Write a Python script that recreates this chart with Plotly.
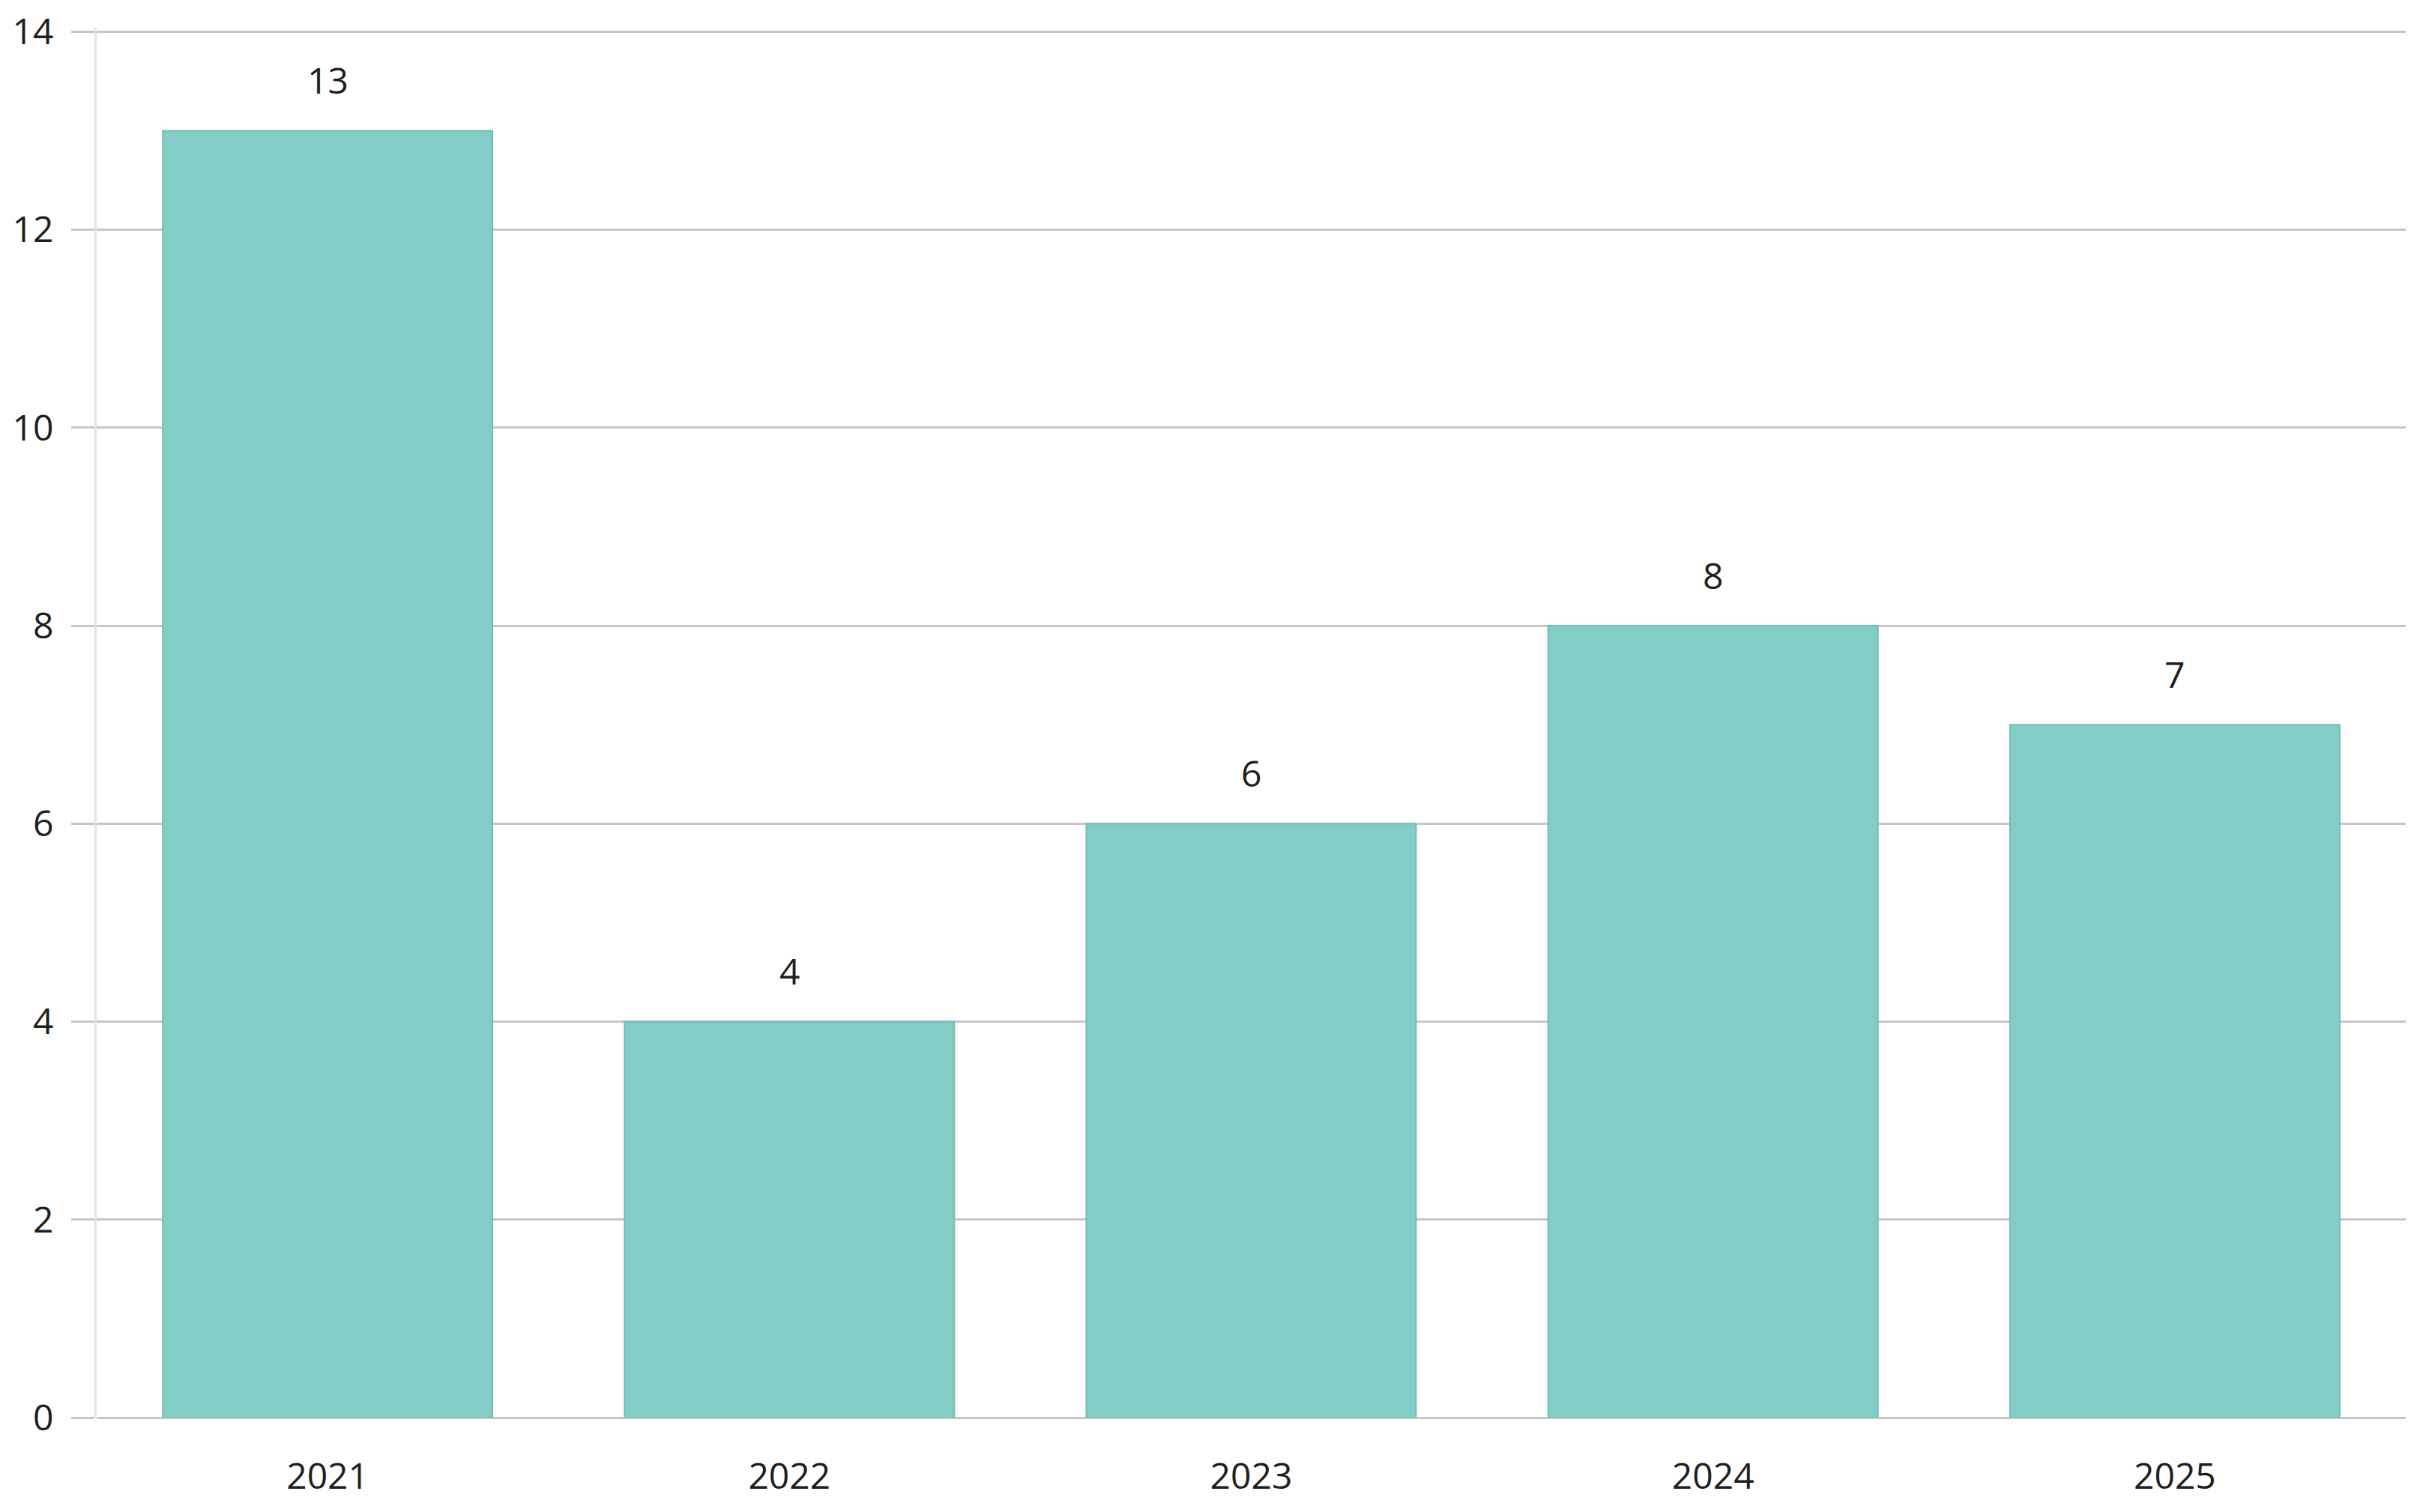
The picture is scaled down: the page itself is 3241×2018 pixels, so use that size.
import plotly.graph_objects as go

years = ["2021", "2022", "2023", "2024", "2025"]
counts = [13, 4, 6, 8, 7]
y_ticks = [0, 2, 4, 6, 8, 10, 12, 14]

BAR = "#82CDC5"
GRID = "#C6C6C6"
TXT = "#1E1E1E"
FONT = "Open Sans"

fig = go.Figure()
fig.add_trace(go.Bar(
    x=years, y=counts,
    marker=dict(color=BAR, line=dict(color="#72BDB4", width=2)),
    width=0.714,
    hoverinfo="x+y",
))

for i, yv in enumerate(counts):
    fig.add_annotation(
        x=i, y=yv, xref="x", yref="y", text=str(yv), showarrow=False,
        yanchor="middle", yshift=68,
        font=dict(family=FONT, size=48, color=TXT),
    )

fig.update_layout(
    width=3233, height=2010,
    margin=dict(l=121, r=31, t=29, b=126, autoexpand=False),
    paper_bgcolor="white", plot_bgcolor="white",
    showlegend=False,
    font=dict(family=FONT, size=48, color=TXT),
    bargap=0.286,
)
fig.update_xaxes(
    type="category", range=[-0.5, 4.5],
    showgrid=False, zeroline=False,
    showline=False, automargin=False,
    ticks="outside", ticklen=36, tickcolor="rgba(0,0,0,0)",
    tickfont=dict(family=FONT, size=48, color=TXT),
)
fig.update_yaxes(
    range=[0, 14.04], tickvals=y_ticks, automargin=False,
    showgrid=True, gridcolor=GRID, gridwidth=3,
    zeroline=True, zerolinecolor=GRID, zerolinewidth=3,
    showline=True, linecolor="#E4E4E4", linewidth=3,
    ticks="outside", ticklen=31, tickcolor=GRID, tickwidth=3,
    ticklabelstandoff=14,
    tickfont=dict(family=FONT, size=48, color=TXT),
)

fig.write_html("out.html")
